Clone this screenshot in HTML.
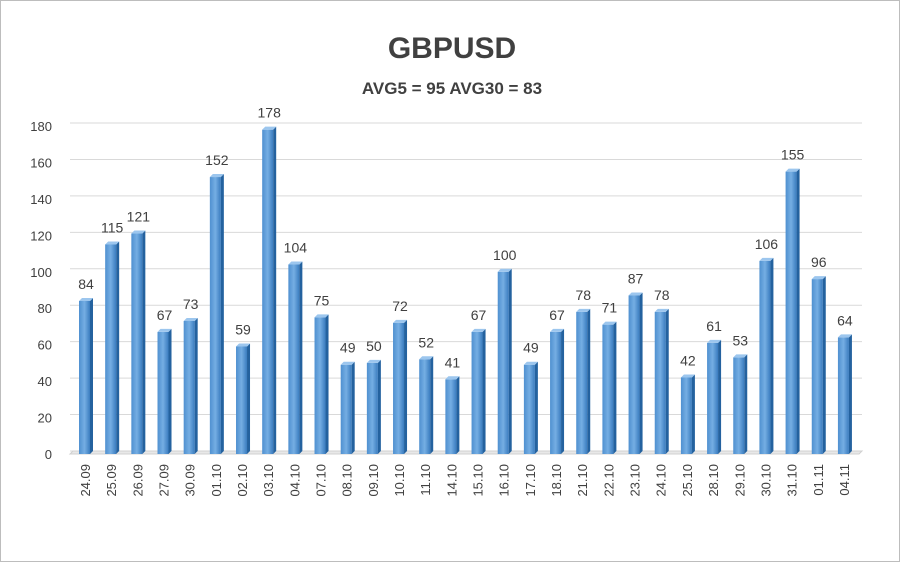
<!DOCTYPE html>
<html><head><meta charset="utf-8"><style>
body{margin:0;background:#fff}
svg{display:block;font-family:"Liberation Sans",sans-serif}
</style></head><body>
<svg id="c" width="900" height="562">
<defs>
<linearGradient id="g" x1="0" x2="1"><stop offset="0" stop-color="#4f90d0"/><stop offset="0.5" stop-color="#75aee3"/><stop offset="1" stop-color="#3a7cbf"/></linearGradient>
</defs>
<rect x="0.5" y="0.5" width="899" height="561" fill="#fff" stroke="#bdbdbd"/>
<text x="452" y="58" text-anchor="middle" font-size="30" font-weight="bold" fill="#404040">GBPUSD</text>
<text x="452" y="94" text-anchor="middle" font-size="17" font-weight="bold" fill="#404040">AVG5 = 95 AVG30 = 83</text>
<g id="grid"></g><g id="bars"></g>
</svg>
<script>
const categories=["24.09","25.09","26.09","27.09","30.09","01.10","02.10","03.10","04.10","07.10","08.10","09.10","10.10","11.10","14.10","15.10","16.10","17.10","18.10","21.10","22.10","23.10","24.10","25.10","28.10","29.10","30.10","31.10","01.11","04.11"];
const values=[84,115,121,67,73,152,59,178,104,75,49,50,72,52,41,67,100,49,67,78,71,87,78,42,61,53,106,155,96,64];
const yTicks=[0,20,40,60,80,100,120,140,160,180];
const NS="http://www.w3.org/2000/svg";
const y0=454,ys=1.822,x0=85,dx=26.17;
const y=v=>y0-v*ys, x=i=>x0+i*dx;
function mk(t,a,p){const e=document.createElementNS(NS,t);for(const k in a)e.setAttribute(k,a[k]);p.appendChild(e);return e;}
const G=document.getElementById('grid'),B=document.getElementById('bars');
yTicks.forEach(v=>{
 const l=mk('line',{x1:70,x2:862,y1:y(v)-3,y2:y(v)-3,stroke:'#d9d9d9'},G);
 
 
 const t=mk('text',{x:52,y:y(v)+5,'text-anchor':'end','font-size':13,fill:'#404040'},G);
 t.textContent=v;
 
 
});
mk('polygon',{points:`${70},${y0} ${73},${y0-3} ${862},${y0-3} ${859},${y0}`,fill:'#e8e8e8',stroke:'#d0d0d0'},G);
values.forEach((v,i)=>{
 const cx=x(i),top=y(v),w=11;
 const g=mk('g',{},B);
 
 
 mk('rect',{x:cx-6,y:top,width:w,height:y0-top,fill:'url(#g)'},g);
 mk('polygon',{points:`${cx+5},${top} ${cx+8},${top-3} ${cx+8},${y0-3} ${cx+5},${y0}`,fill:'#24629f'},g);
 mk('polygon',{points:`${cx-6},${top} ${cx-3},${top-3} ${cx+8},${top-3} ${cx+5},${top}`,fill:'#9cc6ee'},g);
 const t=mk('text',{x:cx+1,y:top-12,'text-anchor':'middle','font-size':14,fill:'#404040'},B);
 t.textContent=v;
 
 
 const c=mk('text',{x:0,y:0,'text-anchor':'end','font-size':13,fill:'#404040',transform:`translate(${cx+5},${464}) rotate(-90)`},B);
 c.textContent=categories[i];
 
 
});
</script>
</body></html>
